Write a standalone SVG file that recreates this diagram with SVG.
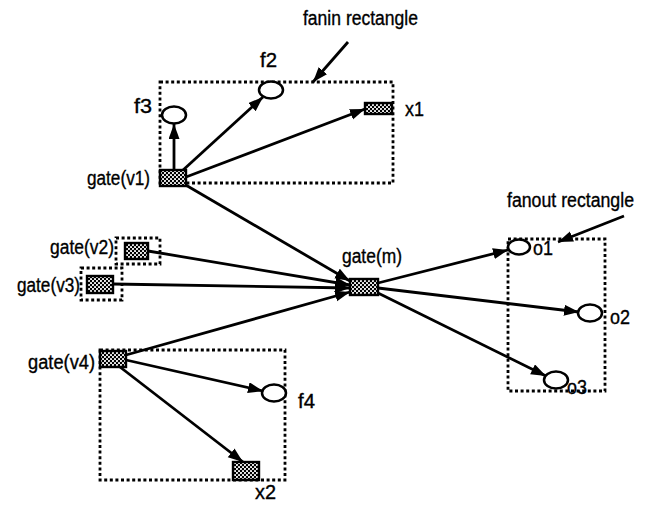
<svg xmlns="http://www.w3.org/2000/svg" width="651" height="522" viewBox="0 0 651 522">
<style>
text{font-family:"Liberation Sans",Arial,sans-serif;font-size:20px;fill:#000;stroke:#000;stroke-width:0.35}
.gate{fill:url(#chk);stroke:#000;stroke-width:2.4}
.pin{fill:#fff;stroke:#000;stroke-width:2.5}
.dash{fill:none;stroke:#000;stroke-width:2.8;stroke-dasharray:3 2.6}
.edge{stroke:#000;stroke-width:2.8;fill:none;marker-end:url(#ah)}
</style>
<defs>
<pattern id="chk" width="4" height="4" patternUnits="userSpaceOnUse">
<rect width="4" height="4" fill="#000"/>
<circle cx="1" cy="1" r="1.05" fill="#fff"/>
<circle cx="3" cy="3" r="1.05" fill="#fff"/>
</pattern>
<marker id="ah" markerUnits="userSpaceOnUse" markerWidth="16" markerHeight="12" refX="15" refY="5.5" orient="auto">
<path d="M0,0 L15,5.5 L0,11 z" fill="#000"/>
</marker>
</defs>
<rect width="651" height="522" fill="#fff"/>

<g id="fanin-rect"><rect class="dash" x="160" y="82" width="233" height="101"/></g>
<g id="fanout-rect"><rect class="dash" x="508" y="239" width="97" height="152"/></g>
<g id="v2-rect"><rect class="dash" x="116" y="238" width="44" height="26"/></g>
<g id="v3-rect"><rect class="dash" x="81" y="268" width="41" height="32"/></g>
<g id="v4-rect"><rect class="dash" x="100" y="350" width="185" height="130"/></g>

<g id="connectors">
<line class="edge" x1="174" y1="170" x2="174" y2="124"/>
<line class="edge" x1="182" y1="171" x2="263" y2="97"/>
<line class="edge" x1="186" y1="177" x2="365" y2="109"/>
<line class="edge" x1="184" y1="184" x2="350" y2="281"/>
<line class="edge" x1="148" y1="251" x2="350" y2="285"/>
<line class="edge" x1="113" y1="284" x2="350" y2="288"/>
<line class="edge" x1="126" y1="355" x2="350" y2="292"/>
<line class="edge" x1="378" y1="283" x2="508" y2="250"/>
<line class="edge" x1="378" y1="288" x2="579" y2="312"/>
<line class="edge" x1="378" y1="293" x2="546" y2="376"/>
<line class="edge" x1="126" y1="360" x2="263" y2="391"/>
<line class="edge" x1="120" y1="367" x2="243" y2="462"/>
<line class="edge" x1="348" y1="42" x2="313" y2="82"/>
<line class="edge" x1="624" y1="216" x2="558" y2="242"/>
</g>

<g id="gate-v1"><rect class="gate" x="160" y="170" width="26" height="16"/><text x="87" y="185" textLength="63" lengthAdjust="spacingAndGlyphs">gate(v1)</text></g>
<g id="f3"><ellipse class="pin" cx="174" cy="115" rx="12" ry="8.5"/><text x="134" y="113" textLength="18" lengthAdjust="spacingAndGlyphs">f3</text></g>
<g id="f2"><ellipse class="pin" cx="271" cy="90" rx="12" ry="8.5"/><text x="260" y="67" textLength="17" lengthAdjust="spacingAndGlyphs">f2</text></g>
<g id="x1"><rect class="gate" x="365" y="103" width="27" height="11"/><text x="405" y="116" textLength="19" lengthAdjust="spacingAndGlyphs">x1</text></g>
<g id="gate-v2"><rect class="gate" x="125" y="243" width="23" height="16"/><text x="50" y="254" textLength="64" lengthAdjust="spacingAndGlyphs">gate(v2)</text></g>
<g id="gate-v3"><rect class="gate" x="87" y="276" width="26" height="17"/><text x="17" y="292" textLength="63" lengthAdjust="spacingAndGlyphs">gate(v3)</text></g>
<g id="gate-m"><rect class="gate" x="350" y="279" width="28" height="16"/><text x="342" y="263" textLength="60" lengthAdjust="spacingAndGlyphs">gate(m)</text></g>
<g id="gate-v4"><rect class="gate" x="100" y="351" width="26" height="16"/><text x="28" y="369" textLength="67" lengthAdjust="spacingAndGlyphs">gate(v4)</text></g>
<g id="f4"><ellipse class="pin" cx="274" cy="393" rx="12" ry="8.5"/><text x="298" y="408" textLength="17" lengthAdjust="spacingAndGlyphs">f4</text></g>
<g id="x2"><rect class="gate" x="233" y="462" width="26" height="18"/><text x="255" y="499" textLength="21" lengthAdjust="spacingAndGlyphs">x2</text></g>
<g id="o1"><ellipse class="pin" cx="519" cy="247" rx="11" ry="7.5"/><text x="533" y="255" textLength="20" lengthAdjust="spacingAndGlyphs">o1</text></g>
<g id="o2"><ellipse class="pin" cx="590" cy="313" rx="12" ry="8.5"/><text x="610" y="324" textLength="20" lengthAdjust="spacingAndGlyphs">o2</text></g>
<g id="o3"><ellipse class="pin" cx="556" cy="380" rx="12" ry="8.5"/><text x="567" y="394" textLength="20" lengthAdjust="spacingAndGlyphs">o3</text></g>
<g id="fanin-label"><text x="303" y="25" textLength="115" lengthAdjust="spacingAndGlyphs">fanin rectangle</text></g>
<g id="fanout-label"><text x="507" y="207" textLength="127" lengthAdjust="spacingAndGlyphs">fanout rectangle</text></g>
</svg>
